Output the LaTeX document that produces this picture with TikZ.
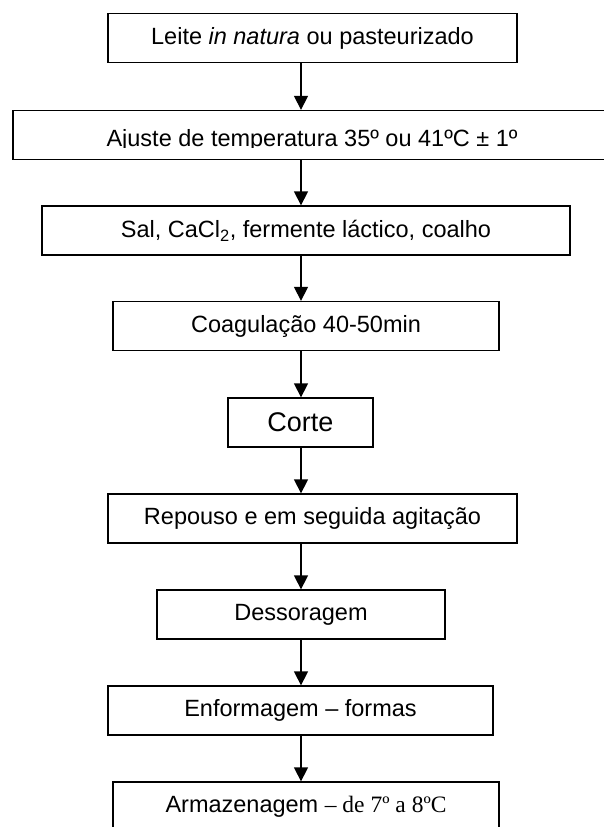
\documentclass[tikz,border=0pt]{standalone}
\usepackage{fontspec}
\setmainfont{Liberation Sans}
\newfontfamily\serifpart{Liberation Serif}
\usetikzlibrary{arrows.meta}

\begin{document}
\begin{tikzpicture}[x=1pt,y=-1pt,every node/.style={font=\fontsize{23.5}{28}\selectfont,inner sep=0pt},stage/.style={draw=black,line width=1.3pt,minimum height=49pt},flow/.style={draw=black,line width=1.3pt,-{Triangle[length=14pt,width=14pt]}}]
\useasboundingbox (0,0) rectangle (603,827);
\coordinate (axis) at (301,0);

\node[stage,minimum width=409pt] (leite) at (312.5,38) {Leite \textit{in natura} ou pasteurizado};
\node[stage,minimum width=607pt] (ajuste) at (316.5,135) {};
\begin{scope}\clip (0,100) rectangle (603,147.5);
\node[anchor=base] (ajustetxt) at (312,146) {Ajuste de temperatura 35º ou 41ºC ± 1º};
\end{scope}
\node[stage,minimum width=528pt] (sal) at (306,230.5) {Sal, CaCl\textsubscript{2}, fermente láctico, coalho};
\node[stage,minimum width=386pt] (coag) at (306,326) {Coagulação 40-50min};
\node[stage,minimum width=145pt,font=\fontsize{27}{30}\selectfont] (corte) at (300.5,422.5) {Corte};
\node[stage,minimum width=409pt] (repouso) at (312.5,518.5) {Repouso e em seguida agitação};
\node[stage,minimum width=288pt] (desso) at (301,614.5) {Dessoragem};
\node[stage,minimum width=385pt] (enform) at (300.5,710.5) {Enformagem – formas};
\node[stage,minimum width=386pt,minimum height=50pt] (armaz) at (306,807) {Armazenagem {\serifpart – de 7º a 8ºC}};

\foreach \a/\b in {leite/ajuste,ajuste/sal,sal/coag,coag/corte,corte/repouso,repouso/desso,desso/enform,enform/armaz}
  \draw[flow] (\a.south -| axis) -- (\b.north -| axis);
\end{tikzpicture}
\end{document}
